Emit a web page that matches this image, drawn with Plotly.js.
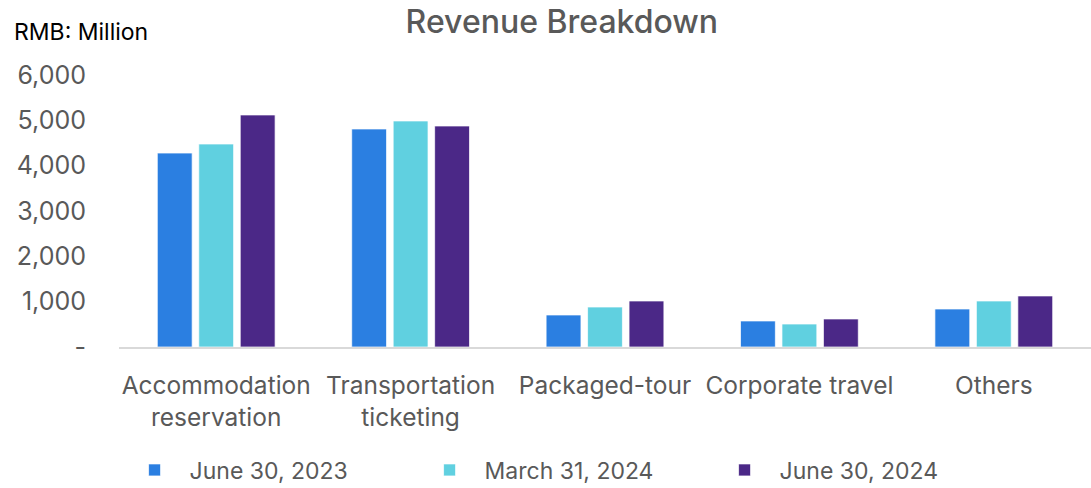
<!DOCTYPE html>
<html>
<head>
<meta charset="utf-8">
<script src="https://cdn.plot.ly/plotly-3.0.1.min.js"></script>
<style>html,body{margin:0;padding:0;background:#fff;}#chart{width:1091px;height:488px;}</style>
</head>
<body>
<div id="chart"></div>
<script>
var categories = ["Accommodation<br>reservation", "Transportation<br>ticketing", "Packaged-tour", "Corporate travel", "Others"];
var seriesNames = ["June 30, 2023", "March 31, 2024", "June 30, 2024"];
var june2023 = [4278, 4809, 706, 574, 838];
var march2024 = [4478, 4986, 882, 507, 1015];
var june2024 = [5118, 4875, 1015, 618, 1126];
var yTickVals = [0, 1000, 2000, 3000, 4000, 5000, 6000];
var yTickText = ["-", "1,000", "2,000", "3,000", "4,000", "5,000", "6,000"];
var colors = ["#2B7FE1", "#60D0E0", "#4B2887"];

var seriesValues = [june2023, march2024, june2024];
var traces = seriesValues.map(function (vals, i) {
  return {
    type: "bar",
    name: seriesNames[i],
    x: categories,
    y: vals,
    marker: { color: colors[i], line: { color: "rgba(255,255,255,0.7)", width: 1 } },
    hoverinfo: "x+y+name"
  };
});

var font = "Inter, 'Noto Sans', sans-serif";
var layout = {
  width: 1091,
  height: 488,
  paper_bgcolor: "#ffffff",
  plot_bgcolor: "#ffffff",
  margin: { l: 119, r: 0, t: 75, b: 141 },
  barmode: "group",
  bargap: 0.36,
  bargroupgap: 0.16,
  showlegend: true,
  title: {
    text: "Revenue Breakdown",
    font: { family: font, size: 32, color: "#595959", weight: 500 },
    x: 0.515, xanchor: "center", y: 0.955, yanchor: "middle", xref: "container", yref: "container"
  },
  font: { family: font, color: "#595959" },
  xaxis: {
    type: "category",
    showline: true,
    linecolor: "#d9d9d9",
    linewidth: 2,
    showgrid: false,
    zeroline: false,
    ticks: "",
    ticklabelstandoff: 16,
    tickfont: { family: font, size: 24.5, color: "#595959" },
    fixedrange: true
  },
  yaxis: {
    range: [0, 6000],
    tickvals: yTickVals,
    ticktext: yTickText,
    showgrid: false,
    zeroline: false,
    showline: false,
    ticks: "",
    ticklabelstandoff: 32,
    tickfont: { family: font, size: 25, color: "#595959" },
    fixedrange: true
  },
  legend: {
    orientation: "h",
    xref: "container", yref: "container",
    x: 0.1096, xanchor: "left",
    y: 18 / 488, yanchor: "middle",
    itemwidth: 60,
    entrywidth: 220,
    font: { family: font, size: 23, color: "#595959" },
    traceorder: "normal"
  },
  annotations: [
    {
      text: "RMB: Million",
      xref: "paper", yref: "paper",
      x: (12 - 119) / 972, xanchor: "left",
      y: (347 - 32) / 272, yanchor: "middle",
      showarrow: false,
      font: { family: font, size: 23, color: "#000000" }
    }
  ]
};

Plotly.newPlot("chart", traces, layout, { displayModeBar: false, staticPlot: true });
</script>
</body>
</html>
